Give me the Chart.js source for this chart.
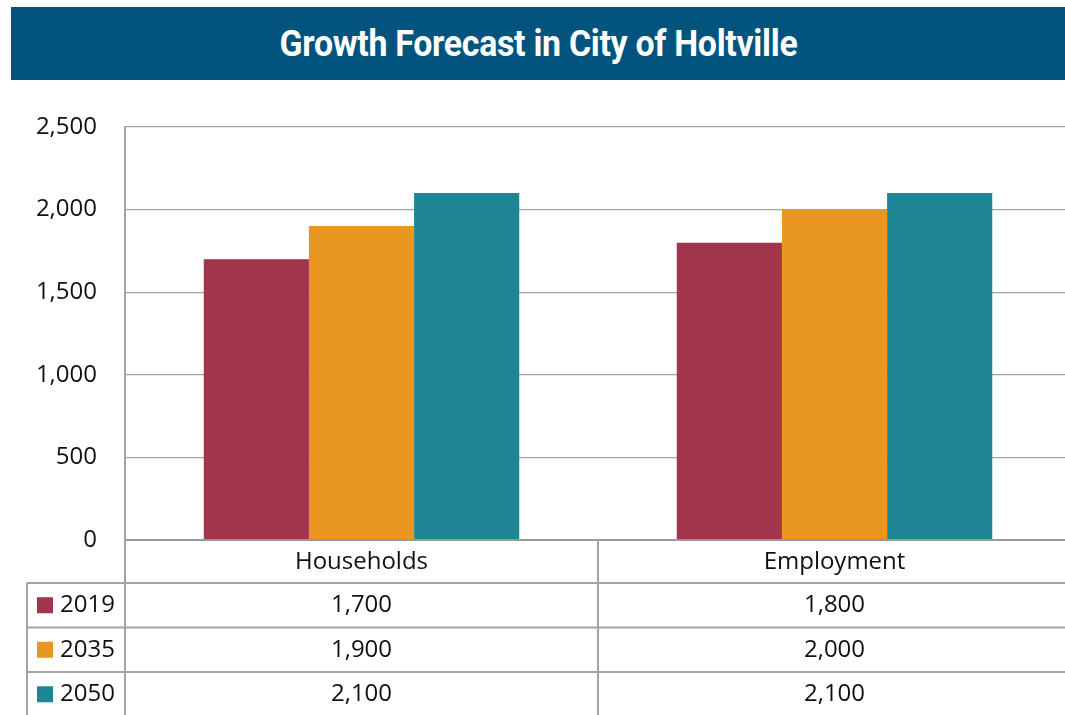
<!DOCTYPE html>
<html>
<head>
<meta charset="utf-8">
<script src="https://cdn.jsdelivr.net/npm/chart.js@4.4.1/dist/chart.umd.min.js"></script>
<style>
    html, body { margin: 0; padding: 0; background: #fff; overflow: hidden; width: 1065px; height: 715px; }
    #banner {
        position: absolute; left: 11px; top: 7px; width: 1054px; height: 73px;
        background: #02547e; color: #fff; text-align: center;
        font-family: Roboto, sans-serif; font-weight: 700; font-size: 36px; line-height: 75px;
    }
    #banner span { display: inline-block; transform: scaleX(0.94); letter-spacing: -0.3px; }
    #myChart { position: absolute; left: 0; top: 0; }
</style>
</head>
<body>
<div id="banner"><span>Growth Forecast in City of Holtville</span></div>
<canvas id="myChart" width="1080" height="715"></canvas>
<script>
const categories = ['Households', 'Employment']
const seriesNames = ['2019', '2035', '2050']
const values2019 = [1700, 1800]
const values2035 = [1900, 2000]
const values2050 = [2100, 2100]
const seriesColors = ['#a0354b', '#e8961f', '#1f8595']
const yTicks = [0, 500, 1000, 1500, 2000, 2500]

const fmt = v => v.toLocaleString('en-US')
const font = '"Open Sans", "Noto Sans", sans-serif'
const lineColor = '#a3a3a3'

// data table under the plot, aligned to the x scale
const tablePlugin = {
    id: 'dataTable',
    afterDraw(chart) {
        const c = chart.ctx
        const x = chart.scales.x
        const area = chart.chartArea
        const rowTop = area.bottom + 43
        const rowH = 44.5
        const tableLeft = 27
        const bottom = chart.height + 5
        const datasets = chart.data.datasets
        c.save()
        c.strokeStyle = lineColor
        c.lineWidth = 2
        c.beginPath()
        // left axis down through table
        c.moveTo(area.left, area.bottom)
        c.lineTo(area.left, bottom)
        c.moveTo(tableLeft, rowTop)
        c.lineTo(tableLeft, bottom)
        // category separators
        for (let i = 1; i < categories.length; i++) {
            const px = (x.getPixelForValue(i - 1) + x.getPixelForValue(i)) / 2
            c.moveTo(px, area.bottom)
            c.lineTo(px, bottom)
        }
        for (let r = 0; r < datasets.length; r++) {
            const y = rowTop + r * rowH
            c.moveTo(tableLeft, y)
            c.lineTo(chart.width, y)
        }
        c.stroke()

        c.fillStyle = '#111'
        c.font = '24px ' + font
        c.textAlign = 'center'
        c.textBaseline = 'middle'
        categories.forEach((cat, i) => {
            c.fillText(cat, x.getPixelForValue(i), (area.bottom + rowTop) / 2 + 1)
        })
        datasets.forEach((ds, r) => {
            const cy = rowTop + r * rowH + rowH / 2
            ds.data.forEach((v, i) => {
                c.textAlign = 'center'
                c.fillText(fmt(v), x.getPixelForValue(i), cy)
            })
            c.fillStyle = ds.backgroundColor
            c.fillRect(37, cy - 8, 16, 16)
            c.fillStyle = '#111'
            c.textAlign = 'left'
            c.fillText(ds.label, 60, cy)
        })
        c.restore()
    }
}

const seriesValues = [values2019, values2035, values2050]

new Chart(document.getElementById('myChart'), {
    type: 'bar',
    data: {
        labels: categories,
        datasets: seriesNames.map((name, i) => ({
            label: name,
            data: seriesValues[i],
            backgroundColor: seriesColors[i],
            categoryPercentage: 0.667,
            barPercentage: 1.0
        }))
    },
    options: {
        responsive: false,
        animation: false,
        devicePixelRatio: 1,
        layout: { padding: { top: 127, bottom: 175, left: 0, right: 9 } },
        plugins: {
            legend: { display: false },
            tooltip: { enabled: false }
        },
        scales: {
            x: {
                display: false
            },
            y: {
                min: 0,
                max: 2500,
                afterBuildTicks: scale => { scale.ticks = yTicks.map(v => ({ value: v })) },
                afterFit: scale => { scale.width = 125 },
                ticks: {
                    padding: 28,
                    color: '#111',
                    font: { family: font, size: 24 },
                    callback: v => fmt(v)
                },
                grid: {
                    color: ctx => ctx.tick && ctx.tick.value === 0 ? '#999' : lineColor,
                    lineWidth: ctx => ctx.tick && ctx.tick.value === 0 ? 2 : 1.2,
                    drawTicks: false
                },
                border: { display: true, color: lineColor, width: 2 }
            }
        }
    },
    plugins: [tablePlugin]
})
</script>
</body>
</html>
